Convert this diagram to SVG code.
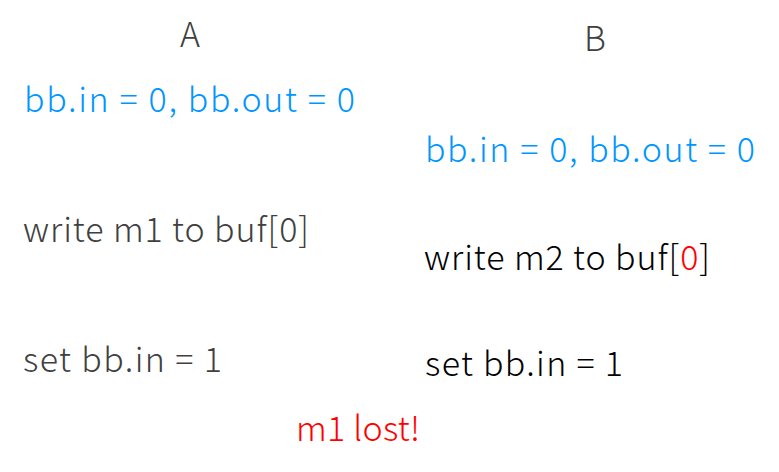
<svg xmlns="http://www.w3.org/2000/svg" width="779" height="472" viewBox="0 0 779 472">
<style>
text{font-family:"Noto Sans CJK SC","Noto Sans",sans-serif;font-weight:300;font-size:34px}
.g{fill:#404040}.k{fill:#000}.b{fill:#0096ff}.r{fill:#ff0000}
</style>
<rect width="779" height="472" fill="#fff"/>
<g id="colA">
<text id="A" class="g" x="190" y="47" text-anchor="middle">A</text>
<text id="A1" class="b" x="24" y="112" textLength="331" lengthAdjust="spacing">bb.in = 0, bb.out = 0</text>
<text id="A2" class="g" x="23" y="242" textLength="286" lengthAdjust="spacing">write m1 to buf[0]</text>
<text id="A3" class="g" x="23" y="372" textLength="199" lengthAdjust="spacing">set bb.in = 1</text>
</g>
<g id="colB">
<text id="B" class="g" x="595" y="51" text-anchor="middle">B</text>
<text id="B1" class="b" x="425" y="162" textLength="330" lengthAdjust="spacing">bb.in = 0, bb.out = 0</text>
<text id="B2" class="k" x="424" y="270" textLength="286" lengthAdjust="spacing">write m2 to buf[<tspan class="r">0</tspan>]</text>
<text id="B3" class="k" x="425" y="376" textLength="198" lengthAdjust="spacing">set bb.in = 1</text>
</g>
<g id="note"><text class="r" x="296" y="441" textLength="124" lengthAdjust="spacing">m1 lost!</text></g>
<g id="connectors"/>
</svg>
